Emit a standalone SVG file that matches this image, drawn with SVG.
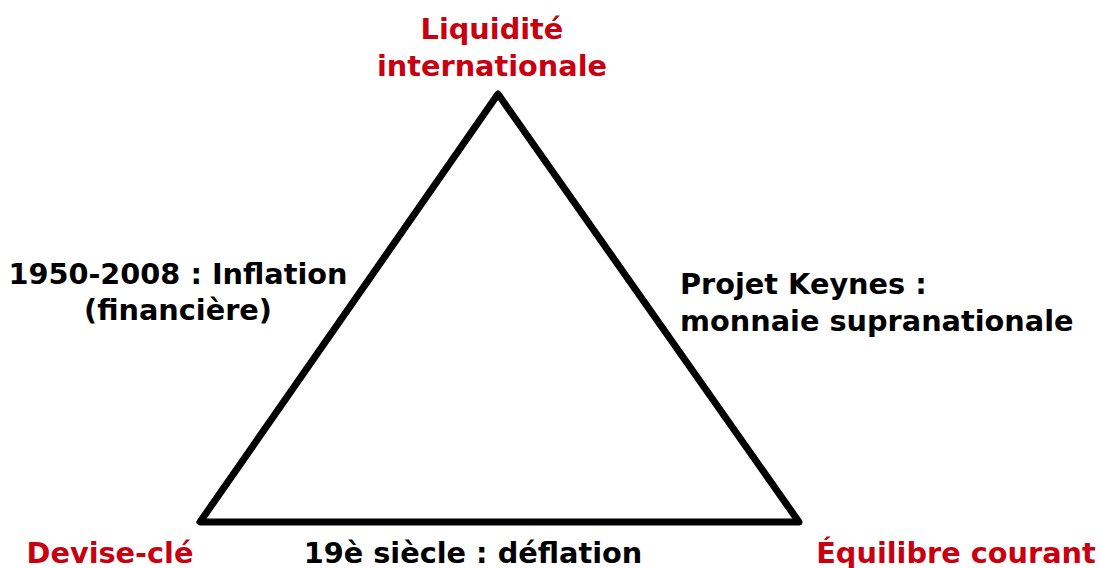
<svg xmlns="http://www.w3.org/2000/svg" width="1101" height="568" viewBox="0 0 1101 568">
<style>
text{font-family:"DejaVu Sans",sans-serif;font-weight:bold;font-size:28.75px}
.red{fill:#c80010}
.blk{fill:#000}
.c{text-anchor:middle}
</style>
<rect width="1101" height="568" fill="#fff"/>
<g id="connectors">
<polygon points="498,94 200,522 799,522" fill="none" stroke="#000" stroke-width="7" stroke-linejoin="round"/>
</g>
<g id="node-liquidite"><text class="red c" x="492" y="39">Liquidité</text><text class="red c" x="492" y="76">internationale</text></g>
<g id="node-devise"><text class="red c" x="110" y="563">Devise-clé</text></g>
<g id="node-equilibre"><text class="red c" x="956" y="563">Équilibre courant</text></g>
<g id="label-left"><text class="blk c" x="178" y="284">1950-2008 : Inflation</text><text class="blk c" x="178" y="320">(financière)</text></g>
<g id="label-right"><text class="blk" x="680" y="294">Projet Keynes :</text><text class="blk" x="680" y="331">monnaie supranationale</text></g>
<g id="label-bottom"><text class="blk c" x="473" y="563">19è siècle : déflation</text></g>
</svg>
